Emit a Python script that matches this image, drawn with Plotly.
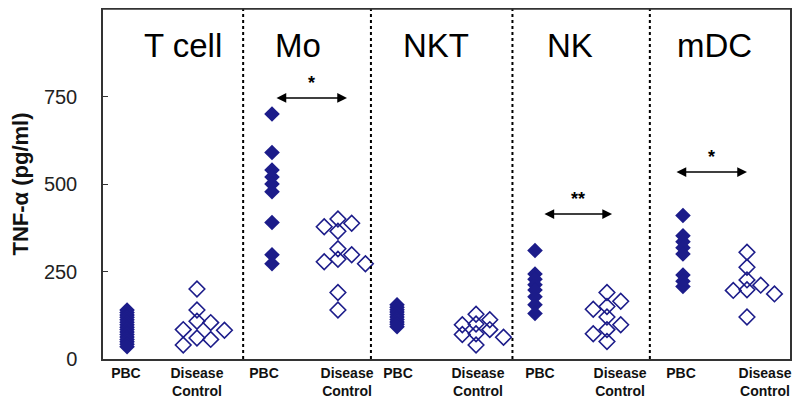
import plotly.graph_objects as go

# panels and categories
cells = ["T cell", "Mo", "NKT", "NK", "mDC"]
groups = ["PBC", "Disease<br>Control"]
y_ticks = [0, 250, 500, 750]

# TNF-alpha (pg/ml)
pbc = [
    [140, 133, 126, 119, 112, 105, 98, 91, 84, 77, 70, 63, 56, 49, 42, 35],
    [700, 590, 540, 520, 500, 478, 390, 298, 272],
    [155, 148, 141, 134, 127, 120, 113, 106, 99, 92],
    [310, 243, 228, 212, 197, 178, 155, 130],
    [410, 352, 335, 318, 300, 240, 222, 207],
]
control = [
    [200, 140, 108, 104, 84, 82, 60, 56, 40],
    [400, 388, 378, 365, 315, 298, 285, 278, 272, 190, 140],
    [128, 112, 100, 98, 84, 72, 70, 62, 40],
    [190, 165, 150, 142, 120, 98, 84, 72, 50],
    [305, 262, 226, 211, 198, 196, 186, 120],
]
# significance: panel index, arrow level, stars
sig_panel = [1, 3, 4]
sig_level = [746, 414, 534]
sig_text = ["*", "**", "*"]

# layout positions (x axis units, one unit ~ one panel)
panel_edges = [0, 1.02, 1.95, 2.98, 3.98, 5.0]
pbc_x = [0.175, 1.23, 2.14, 3.144, 4.221]
ctrl_x = [0.684, 1.71, 2.715, 3.668, 4.687]
pbc_lab_x = [0.167, 1.172, 2.147, 3.18, 4.207]
ctrl_lab_x = [0.684, 1.776, 2.729, 3.763, 4.818]
title_x = [0.582, 1.419, 2.424, 3.399, 4.454]
arrow_x = [(1.252, 1.776), (3.202, 3.705), (4.163, 4.687)]

NAVY = "#1c1c8a"


def swarm(vals, center, step=0.1, gap=26):
    placed = []
    for v in vals:
        k = 0
        while k < 4:
            off = ((k + 1) // 2) * step * (1 if k % 2 else -1)
            x = center + off
            if all(abs(px - x) > step * 0.9 or abs(pv - v) > gap for px, pv in placed):
                break
            k += 1
        placed.append((x, v))
    return [p[0] for p in placed]


fig = go.Figure()

for i, c in enumerate(cells):
    fig.add_trace(go.Scatter(
        x=[pbc_x[i]] * len(pbc[i]), y=pbc[i], mode="markers",
        marker=dict(symbol="diamond", size=12, color=NAVY, line=dict(width=0)),
        showlegend=False, name=c + " PBC"))
    fig.add_trace(go.Scatter(
        x=swarm(control[i], ctrl_x[i]), y=control[i], mode="markers",
        marker=dict(symbol="diamond-open", size=12, color=NAVY, line=dict(width=1.6, color=NAVY)),
        showlegend=False, name=c + " control"))
    fig.add_annotation(x=title_x[i], y=897, text=c, showarrow=False,
                       font=dict(size=33, color="black", family="Liberation Sans, Arial"))

# dotted separators
for e in panel_edges[1:-1]:
    fig.add_shape(type="line", x0=e, x1=e, y0=0, y1=1, xref="x", yref="paper",
                  line=dict(color="black", width=2, dash="dot"))

# top edge of the frame
fig.add_shape(type="line", x0=0, x1=1, y0=1, y1=1, xref="paper", yref="paper",
              line=dict(color="#333", width=1.5), layer="above")

# double-headed arrows with stars
for j, p in enumerate(sig_panel):
    x0, x1 = arrow_x[j]
    fig.add_annotation(x=x1, y=sig_level[j], ax=x0, ay=sig_level[j], axref="x", ayref="y",
                       text="", showarrow=True, arrowhead=2, startarrowhead=2,
                       arrowside="end+start", arrowsize=1.3, arrowwidth=1.5,
                       arrowcolor="black", startarrowsize=1.3)
    fig.add_annotation(x=(x0 + x1) / 2, y=sig_level[j] + 42, text="<b>" + sig_text[j] + "</b>",
                       showarrow=False, font=dict(size=18, color="black"))

tickvals = []
ticktext = []
for i in range(len(cells)):
    tickvals += [pbc_lab_x[i], ctrl_lab_x[i]]
    ticktext += ["<b>" + g + "</b>" for g in groups]

# page body adds an 8px offset, margins compensate
fig.update_layout(
    width=800, height=408,
    margin=dict(l=95, r=18, t=1, b=57),
    plot_bgcolor="white", paper_bgcolor="white",
    font=dict(family="Liberation Sans, Arial", color="#222"),
    xaxis=dict(range=[0, 5], showgrid=False, zeroline=False, showline=True, mirror=True,
               linecolor="#333", linewidth=1.5, ticks="", tickvals=tickvals, ticktext=ticktext,
               tickfont=dict(size=14, color="#111"), tickangle=0, automargin=False),
    yaxis=dict(range=[0, 1000], showgrid=False, zeroline=False, showline=True, mirror=True,
               linecolor="#333", linewidth=1.5, ticks="inside", ticklen=5, tickcolor="#333",
               tickvals=y_ticks, tickfont=dict(size=20, color="#222"), ticklabelstandoff=20,
               automargin=False,
               title=dict(text="<b>TNF-α (pg/ml)</b>", font=dict(size=22, color="#111"), standoff=12)),
)

fig.write_html("out.html")
